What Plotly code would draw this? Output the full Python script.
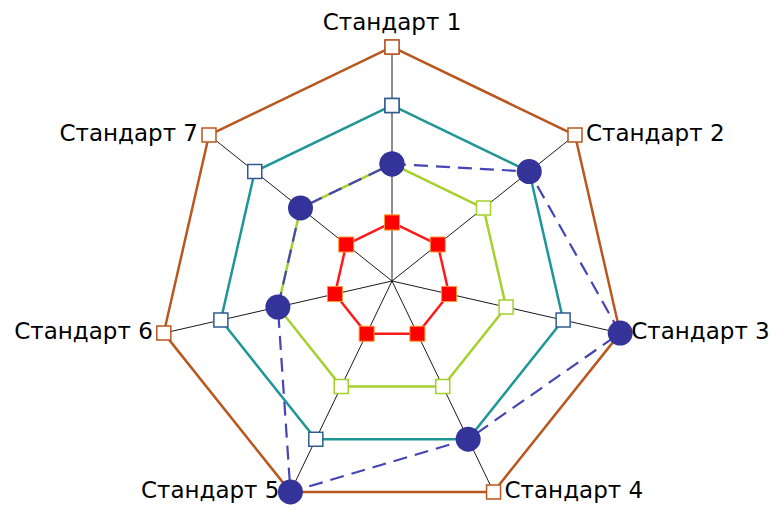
import plotly.graph_objects as go

categories = ["Стандарт 1", "Стандарт 2", "Стандарт 3", "Стандарт 4",
              "Стандарт 5", "Стандарт 6", "Стандарт 7"]
level1 = [1, 1, 1, 1, 1, 1, 1]
level2 = [2, 2, 2, 2, 2, 2, 2]
level3 = [3, 3, 3, 3, 3, 3, 3]
level4 = [4, 4, 4, 4, 4, 4, 4]
actual = [2, 3, 4, 3, 4, 2, 2]
label_pos = ["top center", "middle right", "middle right", "middle right",
             "middle left", "middle left", "middle left"]


def closed(vals):
    return list(vals) + [vals[0]]


theta = closed(categories)

fig = go.Figure()

fig.add_trace(go.Scatterpolar(
    r=closed(level4), theta=theta, mode="lines+markers",
    line=dict(color="#B9571F", width=2.5),
    marker=dict(symbol="square", size=14, color="white",
                line=dict(color="#B9571F", width=1.5)),
    cliponaxis=False, hoverinfo="skip"))
fig.add_trace(go.Scatterpolar(
    r=closed(level3), theta=theta, mode="lines+markers",
    line=dict(color="#1E9696", width=2.5),
    marker=dict(symbol="square", size=14, color="white",
                line=dict(color="#2F5C8E", width=1.5)),
    cliponaxis=False))
fig.add_trace(go.Scatterpolar(
    r=closed(level2), theta=theta, mode="lines+markers",
    line=dict(color="#A4D12C", width=2.5),
    marker=dict(symbol="square", size=14, color="white",
                line=dict(color="#A4D12C", width=1.5)),
    cliponaxis=False))
fig.add_trace(go.Scatterpolar(
    r=closed(level1), theta=theta, mode="lines+markers",
    line=dict(color="#FF1A1A", width=2.5),
    marker=dict(symbol="square", size=15, color="#FF0000",
                line=dict(color="#FF9A2A", width=1)),
    cliponaxis=False))
fig.add_trace(go.Scatterpolar(
    r=closed(actual), theta=theta, mode="lines+markers",
    line=dict(color="#4545B5", width=2.2, dash="14px,8px"),
    marker=dict(symbol="circle", size=25, color="#33339A",
                line=dict(color="#33339A", width=0)),
    cliponaxis=False))
# category labels placed at the outer vertices
fig.add_trace(go.Scatterpolar(
    r=level4, theta=categories, mode="markers+text",
    text=categories, textposition=label_pos,
    textfont=dict(family="DejaVu Sans", size=23, color="black"),
    marker=dict(size=16, color="rgba(0,0,0,0)"),
    cliponaxis=False, hoverinfo="skip"))

fig.update_layout(
    width=779, height=510,
    margin=dict(l=0, r=11, t=36, b=0),
    paper_bgcolor="white",
    showlegend=False,
    font=dict(family="DejaVu Sans", size=20, color="black"),
    polar=dict(
        bgcolor="white",
        gridshape="linear",
        radialaxis=dict(range=[0, 4.05], visible=False, showgrid=False),
        angularaxis=dict(
            direction="clockwise", rotation=90,
            showline=False, showgrid=True, showticklabels=False,
            gridcolor="#1a1a1a", gridwidth=1.2,
            ticks="",
        ),
    ),
)

fig.write_html("out.html")
